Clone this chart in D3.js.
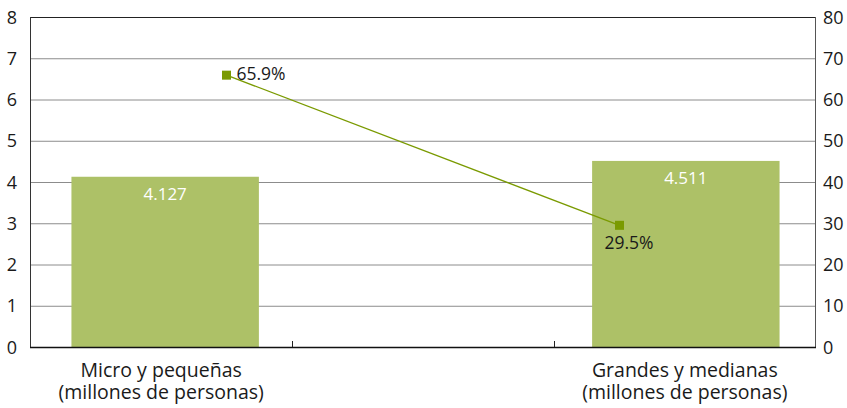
<!DOCTYPE html>
<meta charset="utf-8">
<head>
    <style>
        body {margin: 0; background: #fff;}
        text {font-family: "Open Sans", sans-serif; fill: #1a1a1a;}
        .grid line {stroke: #8c8c8c; stroke-width: 1;}
    </style>
    <script src="https://d3js.org/d3.v7.min.js"></script>
</head>
<body>
<script>

    // categorias y valores
    var categories = ["Micro y pequeñas", "Grandes y medianas"],
        subLabel = "(millones de personas)",
        barValues = [4.127, 4.511],
        barLabels = ["4.127", "4.511"],
        lineValues = [65.9, 29.5],
        lineLabels = ["65.9%", "29.5%"],
        leftTicks = [0, 1, 2, 3, 4, 5, 6, 7, 8],
        rightTicks = [0, 10, 20, 30, 40, 50, 60, 70, 80];

    var margin = {top: 17, right: 31, bottom: 61, left: 30},
        width = 847 - margin.left - margin.right,
        height = 408 - margin.top - margin.bottom;

    var svg = d3.select("body").append("svg")
        .attr("width", 847)
        .attr("height", 408)
      .append("g")
        .attr("transform", "translate(" + margin.left + "," + margin.top + ")");

    // las barras ocupan 3 huecos (el del medio vacio)
    var xBar = d3.scaleBand()
        .domain([categories[0], "", categories[1]])
        .range([5, width])
        .paddingInner(0.28)
        .paddingOuter(0.14);

    // la linea usa un eje de 2 categorias
    var xLine = d3.scaleBand()
        .domain(categories)
        .range([0, width]);

    var yLeft = d3.scaleLinear().domain([0, 8]).range([height, 0]);
    var yRight = d3.scaleLinear().domain([0, 80]).range([height, 0]);

    // rejilla
    svg.append("g").attr("class", "grid")
        .selectAll("line")
        .data(leftTicks.slice(1, -1))
      .enter().append("line")
        .attr("x1", 0).attr("x2", width)
        .attr("y1", function(d) {return yLeft(d) + 0.5})
        .attr("y2", function(d) {return yLeft(d) + 0.5});

    // borde superior
    svg.append("line")
        .attr("x1", 0).attr("x2", width)
        .attr("y1", 0.5).attr("y2", 0.5)
        .attr("stroke", "#222");

    // barras
    var barX = function(i) {return i == 0 ? xBar(categories[0]) : xBar(categories[1])};
    svg.selectAll(".bar")
        .data(barValues)
      .enter().append("rect")
        .attr("class", "bar")
        .attr("x", function(d, i) {return barX(i)})
        .attr("y", function(d) {return yLeft(d)})
        .attr("width", xBar.bandwidth())
        .attr("height", function(d) {return height - yLeft(d)})
        .attr("fill", "#adc167");

    svg.selectAll(".barlabel")
        .data(barValues)
      .enter().append("text")
        .attr("x", function(d, i) {return barX(i) + xBar.bandwidth() / 2})
        .attr("y", function(d) {return yLeft(d) + 23})
        .attr("text-anchor", "middle")
        .style("fill", "#fff")
        .style("font-size", "17px")
        .text(function(d, i) {return barLabels[i]});

    // ejes
    svg.append("line")
        .attr("x1", 0.5).attr("x2", 0.5)
        .attr("y1", 0).attr("y2", height)
        .attr("stroke", "#333");
    svg.append("line")
        .attr("x1", width - 0.5).attr("x2", width - 0.5)
        .attr("y1", 0).attr("y2", height)
        .attr("stroke", "#555");
    svg.append("line")
        .attr("x1", 0).attr("x2", width)
        .attr("y1", height + 0.5).attr("y2", height + 0.5)
        .attr("stroke", "#111").attr("stroke-width", 1.5);

    // marcas del eje x en los limites de los huecos
    var step = width / 3;
    svg.selectAll(".xtick")
        .data([1, 2])
      .enter().append("line")
        .attr("x1", function(d) {return Math.round(d * step) + 0.5})
        .attr("x2", function(d) {return Math.round(d * step) + 0.5})
        .attr("y1", height - 6).attr("y2", height)
        .attr("stroke", "#222");

    svg.selectAll(".ylabel")
        .data(leftTicks)
      .enter().append("text")
        .attr("x", -13)
        .attr("y", function(d) {return yLeft(d) + 6.5})
        .attr("text-anchor", "end")
        .style("font-size", "18px")
        .text(function(d) {return d});

    svg.selectAll(".y2label")
        .data(rightTicks)
      .enter().append("text")
        .attr("x", width + 7)
        .attr("y", function(d) {return yRight(d) + 6.5})
        .style("font-size", "18px")
        .text(function(d) {return d});

    // etiquetas de categoria
    var catX = [xBar(categories[0]) + xBar.bandwidth() / 2 - 4, xBar(categories[1]) + xBar.bandwidth() / 2 - 1];
    svg.selectAll(".cat")
        .data(categories)
      .enter().append("text")
        .attr("x", function(d, i) {return catX[i]})
        .attr("y", height + 30)
        .attr("text-anchor", "middle")
        .style("font-size", "19.5px")
        .text(function(d) {return d});
    svg.selectAll(".sub")
        .data(categories)
      .enter().append("text")
        .attr("x", function(d, i) {return catX[i]})
        .attr("y", height + 52)
        .attr("text-anchor", "middle")
        .style("font-size", "19.5px")
        .text(subLabel);

    // linea de porcentajes
    var line = d3.line()
        .x(function(d, i) {return xLine(categories[i]) + xLine.bandwidth() / 2})
        .y(function(d) {return yRight(d)});

    svg.append("path")
        .datum(lineValues)
        .attr("d", line)
        .attr("fill", "none")
        .attr("stroke", "#7a9a01")
        .attr("stroke-width", 1.3);

    svg.selectAll(".marker")
        .data(lineValues)
      .enter().append("rect")
        .attr("x", function(d, i) {return xLine(categories[i]) + xLine.bandwidth() / 2 - 4.5})
        .attr("y", function(d) {return yRight(d) - 4.5})
        .attr("width", 9).attr("height", 9)
        .attr("fill", "#7a9a01");

    svg.selectAll(".linelabel")
        .data(lineValues)
      .enter().append("text")
        .attr("x", function(d, i) {return xLine(categories[i]) + xLine.bandwidth() / 2 + (i == 0 ? 10 : -15)})
        .attr("y", function(d, i) {return yRight(d) + (i == 0 ? 5 : 24)})
        .style("font-size", "17.5px")
        .text(function(d, i) {return lineLabels[i]});

</script>
</body>
